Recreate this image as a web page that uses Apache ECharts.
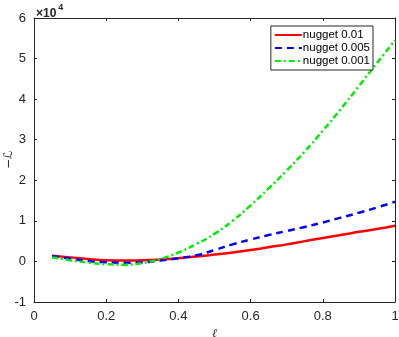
<!DOCTYPE html>
<html>
<head>
<meta charset="utf-8">
<script src="https://cdn.jsdelivr.net/npm/echarts@6/dist/echarts.min.js"></script>
<style>
  html, body { margin: 0; padding: 0; background: #fff; }
  #chart { width: 399px; height: 337px; }
</style>
</head>
<body>
<div id="chart"></div>
<script>
// length scale l
var ell = [0.05, 0.10, 0.15, 0.20, 0.25, 0.30, 0.35, 0.40, 0.45, 0.50,
           0.55, 0.60, 0.65, 0.70, 0.75, 0.80, 0.85, 0.90, 0.95, 1.00];
// -L values, in units of 1e4
var nugget001 = [0.14, 0.10, 0.06, 0.03, 0.02, 0.03, 0.05, 0.08, 0.12, 0.17,
                 0.22, 0.28, 0.35, 0.42, 0.50, 0.58, 0.65, 0.73, 0.80, 0.88];
var nugget0005 = [0.13, 0.07, 0.01, -0.02, -0.03, -0.02, 0.02, 0.08, 0.15, 0.28,
                  0.42, 0.54, 0.65, 0.75, 0.85, 0.96, 1.08, 1.20, 1.33, 1.47];
var nugget0001 = [0.10, 0.03, -0.03, -0.07, -0.08, -0.04, 0.06, 0.22, 0.43, 0.68,
                  1.00, 1.38, 1.80, 2.24, 2.71, 3.22, 3.76, 4.32, 4.89, 5.45];
var seriesNames = ['nugget 0.01', 'nugget 0.005', 'nugget 0.001'];

function pairs(ys) {
    return ys.map(function (y, i) { return [ell[i], y]; });
}

var font = 'Liberation Sans, Arial, sans-serif';
var axisCol = '#262626';

var myChart = echarts.init(document.getElementById('chart'));
var option = {
    animation: false,
    title: {
        text: '{a|×10}{b|4}',
        left: 31,
        top: -2,
        textStyle: {
            rich: {
                a: { fontSize: 12, color: axisCol, fontFamily: font, padding: [5, 0, 0, 0] },
                b: { fontSize: 9, color: axisCol, fontFamily: font, verticalAlign: 'top', padding: [0, 0, 6, 2] }
            }
        }
    },
    graphic: [{
        type: 'text',
        x: 3, y: 169,
        rotation: Math.PI / 2,
        style: { text: '−ℒ', fontSize: 12, fill: axisCol, fontFamily: 'DejaVu Sans' }
    }],
    grid: { left: 34, right: 4, top: 18, bottom: 35, outerBoundsMode: 'none', containLabel: false },
    legend: {
        orient: 'vertical',
        right: 26,
        top: 26,
        data: seriesNames,
        borderColor: axisCol,
        borderWidth: 1,
        padding: [3, 3, 3, 3],
        itemGap: 1,
        itemWidth: 27,
        itemHeight: 12,
        itemStyle: { color: 'transparent', borderWidth: 0, opacity: 0 },
        textStyle: { fontSize: 11.5, color: '#000', fontFamily: font, padding: [0, 0, 0, -4] },
        backgroundColor: '#fff'
    },
    xAxis: [{
        type: 'value', min: 0, max: 1, interval: 0.2,
        name: 'ℓ', nameLocation: 'middle', nameGap: 22,
        nameTextStyle: { fontSize: 12, color: axisCol, fontStyle: 'italic', fontFamily: 'DejaVu Serif' },
        axisLine: { onZero: false, lineStyle: { color: axisCol, width: 1 } },
        axisTick: { inside: true, length: 3, lineStyle: { color: axisCol } },
        axisLabel: { fontSize: 13, color: axisCol, fontFamily: font, margin: 8 },
        splitLine: { show: false }
    }, {
        type: 'value', min: 0, max: 1, interval: 0.2, position: 'top',
        axisLine: { onZero: false, lineStyle: { color: axisCol, width: 1 } },
        axisTick: { inside: true, length: 3, lineStyle: { color: axisCol } },
        axisLabel: { show: false },
        splitLine: { show: false }
    }],
    yAxis: [{
        type: 'value', min: -1, max: 6, interval: 1,
        axisLine: { show: true, onZero: false, lineStyle: { color: axisCol, width: 1 } },
        axisTick: { show: true, inside: true, length: 3, lineStyle: { color: axisCol } },
        axisLabel: { fontSize: 13, color: axisCol, fontFamily: font, margin: 8 },
        splitLine: { show: false }
    }, {
        type: 'value', min: -1, max: 6, interval: 1, position: 'right',
        axisLine: { show: true, onZero: false, lineStyle: { color: axisCol, width: 1 } },
        axisTick: { show: true, inside: true, length: 3, lineStyle: { color: axisCol } },
        axisLabel: { show: false },
        splitLine: { show: false }
    }],
    series: [{
        name: seriesNames[0], type: 'line', data: pairs(nugget001),
        smooth: true, symbol: 'none', color: '#ff0000',
        lineStyle: { width: 2.5, color: '#ff0000', type: 'solid' }
    }, {
        name: seriesNames[1], type: 'line', data: pairs(nugget0005),
        smooth: true, symbol: 'none', color: '#0000ff',
        lineStyle: { width: 2.5, color: '#0000ff', type: [7, 5] }
    }, {
        name: seriesNames[2], type: 'line', data: pairs(nugget0001),
        smooth: true, symbol: 'none', color: '#00ff00',
        lineStyle: { width: 2.5, color: '#00ee00', type: [6, 3, 2, 3] }
    }]
};
myChart.setOption(option);
</script>
</body>
</html>
